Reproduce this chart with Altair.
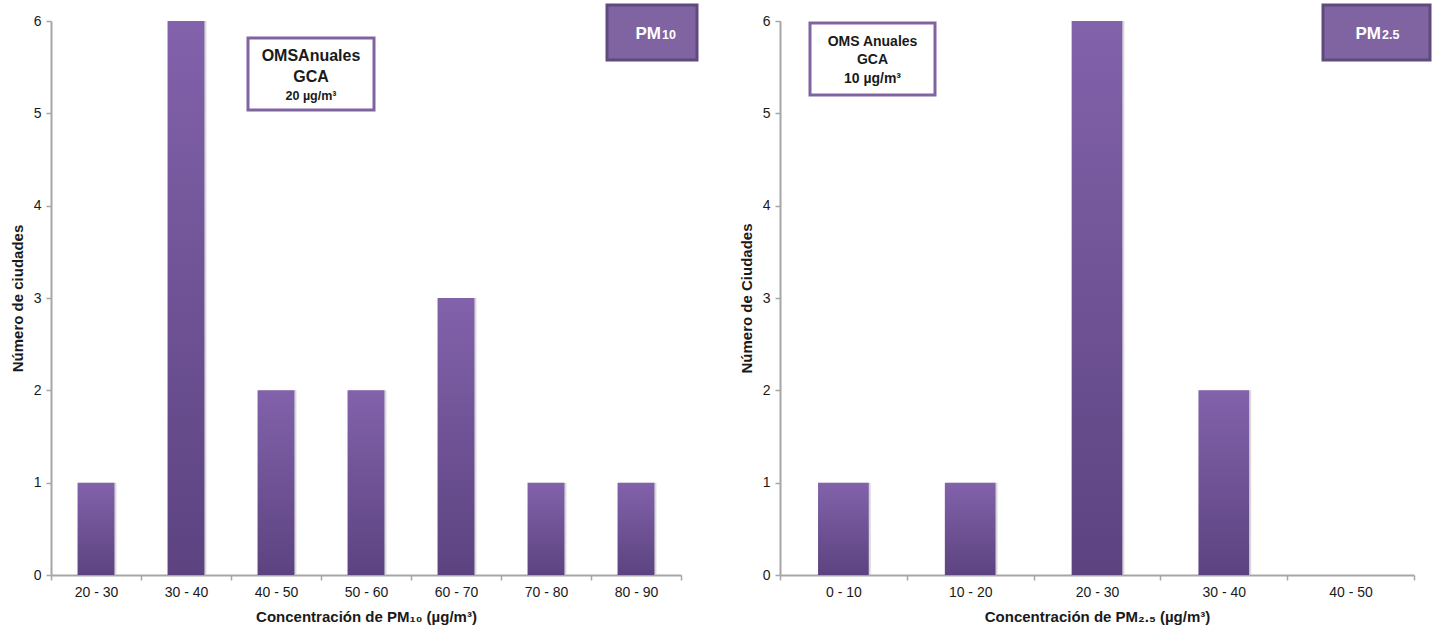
import altair as alt
import pandas as pd

# Frequency of cities per annual-concentration range
pm10_bins = ["20 - 30", "30 - 40", "40 - 50", "50 - 60", "60 - 70", "70 - 80", "80 - 90"]
pm10_counts = [1, 6, 2, 2, 3, 1, 1]

pm25_bins = ["0 - 10", "10 - 20", "20 - 30", "30 - 40", "40 - 50"]
pm25_counts = [1, 1, 6, 2, 0]

y_ticks = [0, 1, 2, 3, 4, 5, 6]

PURPLE = "#8064a2"
PURPLE_DARK = "#5f4a7e"
AXIS_GRAY = "#a6a6a6"
TEXT = "#1a1a1a"
FONT = "Liberation Sans"

bar_fill = alt.Gradient(
    gradient="linear", x1=0, y1=0, x2=0, y2=1,
    stops=[alt.GradientStop(offset=0, color="#8262ab"),
           alt.GradientStop(offset=1, color="#5c4380")],
)

single = alt.Data(values=[{}])


def box(x0, x1, y0, y1, fill, stroke, sw):
    return alt.Chart(single).mark_rect(fill=fill, stroke=stroke, strokeWidth=sw).encode(
        x=alt.value(x0), x2=alt.value(x1), y=alt.value(y0), y2=alt.value(y1)
    )


def label(txt, x, y, size, color=TEXT, align="center"):
    return alt.Chart(single).mark_text(
        text=txt, font=FONT, fontSize=size, fontWeight="bold", color=color,
        align=align, baseline="alphabetic",
    ).encode(x=alt.value(x), y=alt.value(y))


def panel(bins, counts, bar_frac, width, x_title, y_title, note, tag):
    df = pd.DataFrame({"rango": bins, "n": counts})
    x_enc = alt.X(
        "rango:N", sort=bins,
        scale=alt.Scale(paddingInner=0, paddingOuter=0),
        axis=alt.Axis(
            title=x_title, tickBand="extent", labelAngle=0,
            domainColor=AXIS_GRAY, domainWidth=2, tickColor=AXIS_GRAY, tickWidth=1.5, tickSize=5,
            labelFont=FONT, labelFontSize=14, labelColor=TEXT, labelPadding=5,
            titleFont=FONT, titleFontSize=15, titleFontWeight="bold", titleColor=TEXT, titlePadding=10,
        ),
    )
    y_enc = alt.Y(
        "n:Q",
        scale=alt.Scale(domain=[0, 6], nice=False),
        axis=alt.Axis(
            values=y_ticks, grid=False, title=y_title,
            domainColor=AXIS_GRAY, domainWidth=2, tickColor=AXIS_GRAY, tickWidth=1.5, tickSize=5,
            labelFont=FONT, labelFontSize=14, labelColor=TEXT, labelPadding=5,
            titleFont=FONT, titleFontSize=15, titleFontWeight="bold", titleColor=TEXT, titlePadding=8,
        ),
    )
    base = alt.Chart(df).encode(x=x_enc, y=y_enc)
    bar_w = alt.RelativeBandSize(bar_frac)
    shadow = base.mark_bar(fill="#cfcfcf", opacity=0.8, xOffset=2, width=bar_w)
    bars = base.mark_bar(fill=bar_fill, width=bar_w)

    (nx0, nx1, ny0, ny1), lines = note
    ncx = (nx0 + nx1) / 2
    note_layers = [box(nx0, nx1, ny0, ny1, "white", PURPLE, 3)]
    for txt, by, size in lines:
        note_layers.append(label(txt, ncx, by, size))

    (tx0, tx1, ty0, ty1), main, sub, split_x = tag
    tag_layers = [
        box(tx0, tx1, ty0, ty1, PURPLE, PURPLE_DARK, 3),
        label(main, split_x, 18, 17, color="white", align="right"),
        label(sub, split_x + 1, 18, 12.5, color="white", align="left"),
    ]
    return alt.layer(shadow, bars, *note_layers, *tag_layers).properties(width=width, height=554)


left = panel(
    pm10_bins, pm10_counts, 0.41, 630,
    "Concentración  de PM₁₀ (µg/m³)", "Número de ciudades",
    ((197, 323, 17, 89), [("OMSAnuales", 40, 16), ("GCA", 61, 16), ("20 µg/m³", 79, 12.5)]),
    ((556, 646, -16, 39), "PM", "10", 610),
)

right = panel(
    pm25_bins, pm25_counts, 0.4, 634,
    "Concentración  de PM₂.₅ (µg/m³)", "Número de Ciudades",
    ((30, 155, 2, 74), [("OMS Anuales", 25, 14), ("GCA", 43, 14), ("10 µg/m³", 62, 14)]),
    ((543, 650, -16, 39), "PM", "2.5", 601),
)

chart = (
    alt.hconcat(left, right, spacing=99, bounds="flush")
    .configure_view(stroke=None)
    .properties(padding={"left": 10, "top": 3, "right": 2, "bottom": 2}, background="white")
)

chart.save("out.html", embed_options={"renderer": "svg", "actions": False})
